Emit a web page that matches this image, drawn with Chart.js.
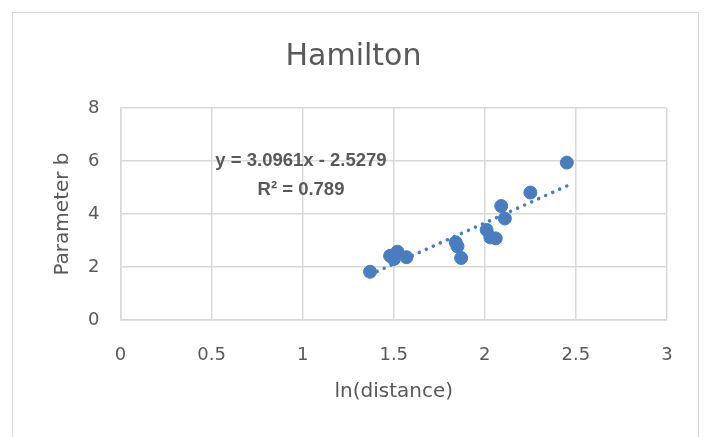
<!DOCTYPE html>
<html>
<head>
<meta charset="utf-8">
<script src="https://cdn.jsdelivr.net/npm/chart.js@4.4.1/dist/chart.umd.min.js"></script>
<style>
  html, body { margin: 0; padding: 0; background: #fff; }
  #wrap { position: relative; width: 711px; height: 437px; overflow: hidden; }
  #frame { position: absolute; left: 12px; top: 12px; width: 687px; height: 440px;
           border: 1.5px solid #d9d9d9; box-sizing: border-box; }
  canvas { position: absolute; left: 0; top: 0; }
</style>
</head>
<body>
<div id="wrap">
  <div id="frame"></div>
  <canvas id="c" width="711" height="437"></canvas>
</div>
<script>
// ln(distance) vs. fitted parameter b, Hamilton
const lnDistance = [1.37, 1.48, 1.50, 1.52, 1.57, 1.84, 1.85, 1.87, 2.01, 2.03, 2.06, 2.09, 2.11, 2.25, 2.45];
const paramB     = [1.82, 2.42, 2.30, 2.58, 2.37, 2.93, 2.78, 2.34, 3.40, 3.12, 3.08, 4.30, 3.83, 4.81, 5.94];

// Linear trend line as stated in the label
const slope = 3.0961;
const intercept = -2.5279;
const rSquared = 0.789;
const trendX = [Math.min(...lnDistance), Math.max(...lnDistance)];

const xTicks = [0, 0.5, 1, 1.5, 2, 2.5, 3];
const yTicks = [0, 2, 4, 6, 8];

const points = lnDistance.map((x, i) => ({ x, y: paramB[i] }));
const trend = trendX.map(x => ({ x, y: slope * x + intercept }));

const txt = '#595959';
const grid = '#d9d9d9';
const font = 'DejaVu Sans';

const eqLabel = {
  id: 'eqLabel',
  afterDatasetsDraw(chart) {
    const ctx = chart.ctx;
    ctx.save();
    ctx.fillStyle = txt;
    ctx.font = 'bold 18.5px "Liberation Sans"';
    ctx.textAlign = 'center';
    ctx.textBaseline = 'middle';
    const cx = 301;
    const sign = intercept < 0 ? ' - ' : ' + ';
    ctx.fillText('y = ' + slope.toFixed(4) + 'x' + sign + Math.abs(intercept).toFixed(4), cx, 161);
    ctx.fillText('R² = ' + rSquared, cx, 190);
    ctx.restore();
  }
};

new Chart(document.getElementById('c'), {
  type: 'scatter',
  data: {
    datasets: [
      {
        type: 'line',
        data: trend,
        borderColor: '#4a7dbf',
        borderWidth: 3.5,
        borderDash: [0.1, 7.6],
        borderCapStyle: 'round',
        pointRadius: 0,
        fill: false,
        order: 2
      },
      {
        data: points,
        backgroundColor: '#4a7dbf',
        borderColor: '#4a7dbf',
        pointRadius: 6.5,
        pointHoverRadius: 6.5,
        order: 1
      }
    ]
  },
  options: {
    responsive: false,
    animation: false,
    events: [],
    layout: { padding: { left: 40, right: 44, top: 0, bottom: 0 } },
    plugins: {
      legend: { display: false },
      tooltip: { enabled: false },
      title: {
        display: true,
        text: 'Hamilton',
        color: txt,
        font: { family: font, size: 30, weight: 'normal', lineHeight: 1.2 },
        padding: { top: 39, bottom: 33 }
      }
    },
    scales: {
      x: {
        type: 'linear',
        min: 0, max: 3,
        afterBuildTicks: s => { s.ticks = xTicks.map(v => ({ value: v })); },
        afterFit: s => { s.height = 117; },
        grid: { color: grid, lineWidth: 1.5, drawTicks: false },
        border: { color: grid, width: 1.5 },
        ticks: { color: txt, font: { family: font, size: 18 }, padding: 25, callback: v => String(v) },
        title: {
          display: true, text: 'ln(distance)', color: txt,
          font: { family: font, size: 20 }, padding: { top: 0, bottom: 33 }
        }
      },
      y: {
        type: 'linear',
        min: 0, max: 8,
        afterBuildTicks: s => { s.ticks = yTicks.map(v => ({ value: v })); },
        afterFit: s => { s.width = 80.5; },
        grid: { color: grid, lineWidth: 1.5, drawTicks: false },
        border: { color: grid, width: 1.5 },
        ticks: { color: txt, font: { family: font, size: 18 }, padding: 21, callback: v => String(v) },
        title: {
          display: true, text: 'Parameter b', color: txt,
          font: { family: font, size: 20 }, padding: { top: 11, bottom: 0 }
        }
      }
    }
  },
  plugins: [eqLabel]
});
</script>
</body>
</html>
